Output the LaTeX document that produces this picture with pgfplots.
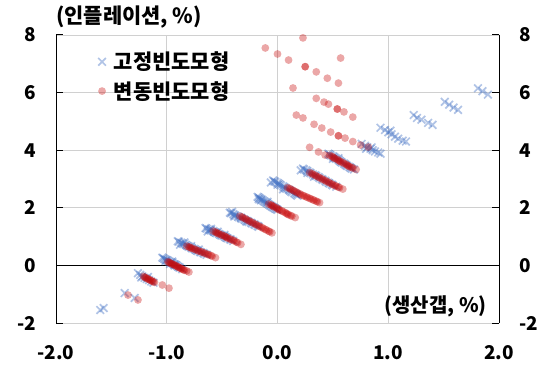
\documentclass[border=0pt]{standalone}
\usepackage{fontspec}
\setmainfont{Noto Sans CJK KR}
\usepackage{pgfplots}
\pgfplotsset{compat=1.18}
\definecolor{myblue}{RGB}{68,114,196}
\definecolor{myred}{RGB}{200,10,10}
\definecolor{gridgray}{RGB}{208,208,208}
\begin{document}
\begin{tikzpicture}
\begin{axis}[name=main,
 scale only axis, width=443bp, height=288bp,
 xmin=-2, xmax=2, ymin=-2, ymax=8,
 xtick={-2,-1,0,1,2}, ytick={-2,0,2,4,6,8},
 xticklabels={-2.0,-1.0,0.0,1.0,2.0},
 axis x line*=bottom, axis y line*=left,
 x axis line style={draw=none}, y axis line style={black, line width=1bp, -},
 grid=major, major grid style={gridgray, line width=0.8bp},
 tick align=inside, major tick length=7bp,
 xtick style={draw=none}, ytick style={black, line width=1bp},
 ticklabel style={font=\fontsize{19}{22}\selectfont\bfseries},
 /pgf/number format/assume math mode=true,
 yticklabel style={xshift=-16bp},
 xticklabel style={yshift=-19bp},
 legend style={at={(rel axis cs:0.088,0.955)}, anchor=north west, draw=none, fill=none,
   font=\fontsize{21}{24}\selectfont\bfseries, row sep=6bp},
 legend cell align=left,
]
\addplot[black, line width=0.9bp, no marks, forget plot] coordinates {(-2,0) (2,0)};
\addplot[only marks, mark=x, mark size=5.4bp, color=myblue, mark options={line width=1.7bp, draw opacity=0.42}] coordinates {
(-1.60,-1.55) (-1.57,-1.48)
(-1.38,-0.96) (-1.29,-1.13)
(-1.26,-0.27) (-1.24,-0.33) (-1.22,-0.38) (-1.20,-0.43) (-1.18,-0.47) (-1.16,-0.51) (-1.14,-0.56) (-1.12,-0.60) (-1.23,-0.42) (-1.17,-0.40)
(-1.04,0.27) (-1.02,0.22) (-1.00,0.19) (-0.98,0.14) (-0.96,0.10) (-0.94,0.05) (-0.92,0.02) (-0.90,-0.04) (-0.88,-0.08) (-0.86,-0.13) (-1.01,0.15) (-0.95,0.13) (-0.93,0.00) (-0.97,0.05)
(-1.03,0.25) (-1.01,0.20) (-0.99,0.17) (-0.97,0.12) (-0.95,0.08) (-0.93,0.04) (-0.91,0.00) (-0.89,-0.06)
(-0.90,0.84) (-0.87,0.79) (-0.85,0.74) (-0.82,0.69) (-0.80,0.65) (-0.77,0.59) (-0.74,0.54) (-0.72,0.50) (-0.69,0.45) (-0.66,0.40) (-0.64,0.37) (-0.84,0.80) (-0.78,0.67) (-0.71,0.55) (-0.88,0.72)
(-0.89,0.82) (-0.86,0.77) (-0.83,0.72) (-0.81,0.67) (-0.78,0.62) (-0.75,0.57) (-0.73,0.52) (-0.70,0.47) (-0.67,0.43)
(-0.65,1.30) (-0.62,1.25) (-0.60,1.21) (-0.57,1.16) (-0.55,1.12) (-0.52,1.07) (-0.50,1.03) (-0.47,0.98) (-0.45,0.94) (-0.42,0.89) (-0.40,0.85) (-0.60,1.27) (-0.54,1.17) (-0.48,1.06) (-0.63,1.18)
(-0.64,1.28) (-0.61,1.23) (-0.58,1.19) (-0.56,1.14) (-0.53,1.10) (-0.51,1.05) (-0.48,1.01) (-0.46,0.96) (-0.43,0.91)
(-0.43,1.83) (-0.40,1.78) (-0.38,1.73) (-0.35,1.67) (-0.32,1.62) (-0.29,1.56) (-0.26,1.51) (-0.23,1.45) (-0.20,1.40) (-0.17,1.34) (-0.39,1.70) (-0.33,1.66) (-0.28,1.52) (-0.41,1.86)
(-0.42,1.81) (-0.39,1.75) (-0.36,1.70) (-0.33,1.64) (-0.30,1.59) (-0.27,1.54) (-0.24,1.48) (-0.21,1.43) (-0.18,1.37)
(-0.18,2.38) (-0.16,2.33) (-0.14,2.28) (-0.12,2.22) (-0.10,2.17) (-0.08,2.12) (-0.06,2.07) (-0.04,2.02) (-0.02,1.97) (0.00,1.93) (-0.15,2.26) (-0.09,2.21) (-0.17,2.30)
(-0.17,2.36) (-0.15,2.30) (-0.13,2.25) (-0.11,2.20) (-0.09,2.15) (-0.07,2.09) (-0.05,2.04) (-0.03,2.00) (-0.01,1.95)
(-0.04,2.95) (-0.02,2.90) (0.01,2.84) (0.03,2.78) (0.06,2.72) (0.08,2.66) (0.11,2.60) (0.13,2.54) (0.16,2.48) (0.18,2.42) (0.00,2.80) (0.05,2.64) (-0.06,2.88)
(-0.03,2.92) (0.00,2.87) (0.02,2.81) (0.05,2.75) (0.07,2.69) (0.10,2.63) (0.12,2.57) (0.15,2.51) (0.17,2.45)
(0.23,3.36) (0.26,3.30) (0.29,3.23) (0.32,3.16) (0.35,3.10) (0.38,3.03) (0.41,2.97) (0.44,2.90) (0.47,2.84) (0.50,2.78) (0.53,2.73) (0.27,3.21) (0.33,3.08) (0.21,3.30)
(0.24,3.33) (0.27,3.27) (0.30,3.20) (0.34,3.13) (0.37,3.07) (0.40,3.00) (0.43,2.94) (0.46,2.87) (0.49,2.81)
(0.46,3.88) (0.48,3.82) (0.51,3.76) (0.53,3.70) (0.56,3.63) (0.58,3.57) (0.61,3.51) (0.63,3.45) (0.66,3.39) (0.69,3.33) (0.50,3.70) (0.55,3.72)
(0.47,3.85) (0.50,3.79) (0.52,3.73) (0.55,3.67) (0.57,3.60) (0.60,3.54) (0.62,3.48) (0.65,3.42) (0.67,3.36)
(0.76,4.22) (0.79,4.15) (0.81,4.10) (0.84,4.05) (0.86,4.00) (0.88,3.96) (0.91,3.92) (0.93,3.88) (0.80,4.05) (0.85,4.10)
(0.93,4.78) (0.97,4.70) (1.00,4.62) (1.03,4.55) (1.06,4.47) (1.09,4.40) (1.13,4.33) (1.16,4.30) (1.02,4.68)
(1.23,5.22) (1.26,5.12) (1.30,5.06) (1.36,4.95) (1.40,4.88)
(1.51,5.68) (1.55,5.58) (1.59,5.48) (1.63,5.40)
(1.81,6.15) (1.85,6.05) (1.90,5.93)
};
\addlegendentry{\hspace{6bp}고정빈도모형}
\addplot[only marks, mark=*, mark size=3.9bp, color=myred, mark options={fill=myred, draw opacity=0, fill opacity=0.36}] coordinates {
(-1.35,-1.03) (-1.26,-1.20)
(-1.21,-0.38) (-1.19,-0.43) (-1.17,-0.47) (-1.15,-0.51) (-1.13,-0.55) (-1.11,-0.59) (-1.04,-0.68) (-0.98,-0.79)
(-1.20,-0.41) (-1.18,-0.45) (-1.16,-0.49) (-1.14,-0.53) (-1.12,-0.57)
(-0.99,0.13) (-0.97,0.09) (-0.95,0.05) (-0.93,0.01) (-0.91,-0.03) (-0.89,-0.07) (-0.87,-0.11) (-0.85,-0.15) (-0.82,-0.19) (-0.80,-0.23)
(-0.98,0.10) (-0.96,0.06) (-0.94,0.03) (-0.92,-0.01) (-0.90,-0.05) (-0.88,-0.09) (-0.86,-0.13) (-0.84,-0.17)
(-0.82,0.67) (-0.79,0.63) (-0.77,0.59) (-0.74,0.55) (-0.71,0.50) (-0.68,0.46) (-0.65,0.41) (-0.62,0.37) (-0.59,0.32) (-0.56,0.27)
(-0.80,0.64) (-0.78,0.60) (-0.75,0.56) (-0.72,0.51) (-0.69,0.47) (-0.66,0.43) (-0.63,0.38) (-0.60,0.34)
(-0.58,1.19) (-0.55,1.14) (-0.53,1.10) (-0.50,1.05) (-0.47,1.00) (-0.45,0.95) (-0.42,0.90) (-0.39,0.85) (-0.36,0.79) (-0.33,0.73)
(-0.56,1.16) (-0.54,1.11) (-0.51,1.06) (-0.48,1.02) (-0.46,0.97) (-0.43,0.92) (-0.40,0.87) (-0.37,0.81)
(-0.34,1.71) (-0.31,1.65) (-0.28,1.59) (-0.25,1.53) (-0.22,1.47) (-0.19,1.41) (-0.16,1.35) (-0.13,1.29) (-0.10,1.23) (-0.07,1.17) (-0.05,1.13)
(-0.32,1.68) (-0.29,1.62) (-0.26,1.55) (-0.23,1.49) (-0.20,1.43) (-0.17,1.37) (-0.14,1.31) (-0.11,1.25) (-0.08,1.19)
(-0.08,2.13) (-0.05,2.08) (-0.03,2.03) (0.00,1.97) (0.02,1.92) (0.05,1.87) (0.08,1.81) (0.10,1.76) (0.13,1.71) (0.16,1.66)
(-0.06,2.10) (-0.04,2.05) (-0.01,2.00) (0.01,1.94) (0.04,1.89) (0.07,1.83) (0.09,1.78) (0.12,1.73)
(0.09,2.70) (0.12,2.64) (0.15,2.58) (0.18,2.52) (0.21,2.46) (0.24,2.41) (0.27,2.36) (0.30,2.31) (0.33,2.26) (0.36,2.21) (0.38,2.18)
(0.11,2.67) (0.14,2.61) (0.17,2.55) (0.20,2.49) (0.23,2.43) (0.26,2.38) (0.29,2.33) (0.32,2.28) (0.35,2.23)
(0.29,3.22) (0.32,3.16) (0.35,3.10) (0.38,3.04) (0.41,2.98) (0.44,2.92) (0.47,2.86) (0.50,2.80) (0.53,2.75) (0.56,2.70) (0.59,2.65)
(0.31,3.19) (0.34,3.13) (0.37,3.07) (0.40,3.01) (0.43,2.95) (0.46,2.89) (0.49,2.83) (0.52,2.77) (0.55,2.72)
(0.47,3.82) (0.50,3.76) (0.52,3.71) (0.55,3.65) (0.57,3.60) (0.60,3.54) (0.63,3.48) (0.65,3.43) (0.68,3.38) (0.71,3.33)
(0.49,3.79) (0.51,3.73) (0.54,3.68) (0.56,3.62) (0.59,3.57) (0.62,3.51) (0.64,3.45) (0.67,3.40)
(0.23,7.90) (-0.11,7.55) (0.00,7.34) (0.10,7.13) (0.57,7.20) (0.25,6.90) (0.25,6.90) (0.35,6.72) (0.45,6.50) (0.55,6.33)
(0.14,6.16) (0.35,5.80) (0.42,5.67) (0.46,5.60) (0.54,5.43) (0.54,5.43) (0.60,5.33) (0.68,5.15)
(0.17,5.22) (0.23,5.12) (0.33,4.90) (0.40,4.77) (0.48,4.63) (0.55,4.50) (0.55,4.50) (0.61,4.42) (0.68,4.30) (0.75,4.18) (0.82,4.11)
(0.29,4.10) (0.37,3.94) (0.43,3.83)
};
\addlegendentry{\hspace{6bp}변동빈도모형}
\end{axis}
\begin{axis}[
 scale only axis, width=443bp, height=288bp,
 xmin=-2, xmax=2, ymin=-2, ymax=8,
 ytick={-2,0,2,4,6,8},
 axis y line*=right, axis x line=none,
 y axis line style={black, line width=1bp, -},
 tick align=inside, major tick length=7bp,
 ytick style={black, line width=1bp},
 ticklabel style={font=\fontsize{19}{22}\selectfont\bfseries},
 /pgf/number format/assume math mode=true,
 yticklabel style={xshift=17bp},
]
\end{axis}
\node[anchor=west, font=\fontsize{21}{24}\selectfont\bfseries, inner sep=0pt] at ([xshift=0bp, yshift=18bp]main.north west) {(인플레이션, \%)};
\node[anchor=east, font=\fontsize{20}{23}\selectfont\bfseries, inner sep=0pt] at ([xshift=-12bp, yshift=17bp]main.south east) {(생산갭, \%)};
\path (-56bp,-43bp) rectangle (492bp,323bp);
\end{tikzpicture}
\end{document}
